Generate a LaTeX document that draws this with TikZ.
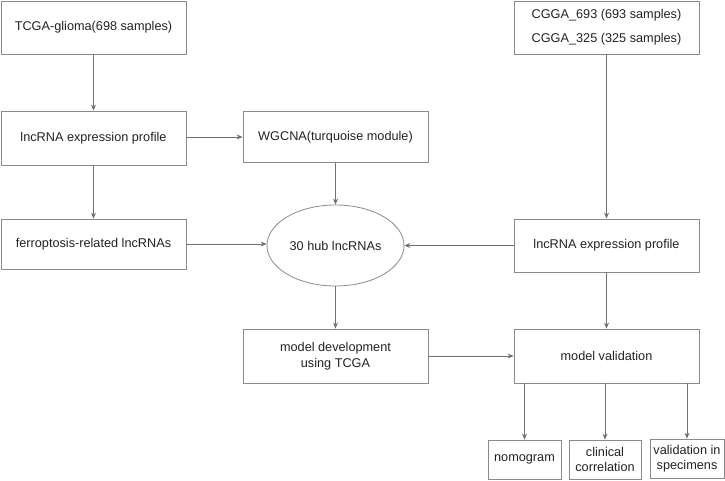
\documentclass[tikz,border=0pt]{standalone}
\usepackage{fontspec}
\setmainfont{Liberation Sans}
\usetikzlibrary{arrows.meta,shapes.geometric}
\definecolor{boxc}{HTML}{8A8A8A}
\definecolor{arrc}{HTML}{707070}
\definecolor{txtc}{HTML}{222222}
\begin{document}
\begin{tikzpicture}[x=1pt,y=-1pt,
  box/.style={draw=boxc,line width=0.8pt,rectangle,inner sep=1pt,align=center,text=txtc,
    font=\fontsize{12.7}{15.5}\selectfont},
  arr/.style={draw=arrc,line width=0.8pt,-{Stealth[length=6pt,width=5pt]}}]
\useasboundingbox (0,0) rectangle (725,481);
\node[box,minimum width=185pt,minimum height=53pt] (tcga) at (93.5,27.5) {TCGA-glioma(698 samples)};
\node[box,minimum width=185pt,minimum height=54pt] (lncl) at (93.5,138) {lncRNA expression profile};
\node[box,minimum width=185pt,minimum height=50pt] (ferro) at (93.5,244) {ferroptosis-related lncRNAs};
\node[box,minimum width=185pt,minimum height=51pt] (wgcna) at (335.5,137) {WGCNA(turquoise module)};
\node[box,ellipse,inner sep=0pt,minimum width=137pt,minimum height=81pt] (hub) at (335.5,245.5) {30 hub lncRNAs};
\node[box,minimum width=185pt,minimum height=53pt] (cgga) at (606.5,27.5) {CGGA\_693 (693 samples)\\[8.5pt]CGGA\_325 (325 samples)};
\node[box,minimum width=185pt,minimum height=53pt] (lncr) at (606.5,245.5) {lncRNA expression profile};
\node[box,minimum width=185pt,minimum height=54pt] (dev) at (335.5,356) {model development\\using TCGA};
\node[box,minimum width=185pt,minimum height=54pt] (val) at (606.5,356) {model validation};
\node[box,minimum width=73pt,minimum height=39pt] (nomo) at (524.5,459.5) {nomogram};
\node[box,minimum width=72pt,minimum height=39pt] (clin) at (605,459.5) {clinical\\correlation};
\node[box,minimum width=74pt,minimum height=39pt] (spec) at (687,458.5) {validation in\\specimens};
\draw[arr] (tcga) -- (lncl);
\draw[arr] (lncl) -- (ferro);
\draw[arr] (lncl.east |- wgcna.west) -- (wgcna.west);
\draw[arr] (wgcna) -- (hub);
\draw[arr] (ferro.east) -- (ferro.east -| hub.west);
\draw[arr] (lncr.west) -- (lncr.west -| hub.east);
\draw[arr] (cgga) -- (lncr);
\draw[arr] (hub) -- (dev);
\draw[arr] (lncr) -- (val);
\draw[arr] (dev) -- (val);
\draw[arr] (val.south -| nomo) -- (nomo.north);
\draw[arr] (val.south -| clin) -- (clin.north);
\draw[arr] (val.south -| spec) -- (spec.north);
\end{tikzpicture}
\end{document}
